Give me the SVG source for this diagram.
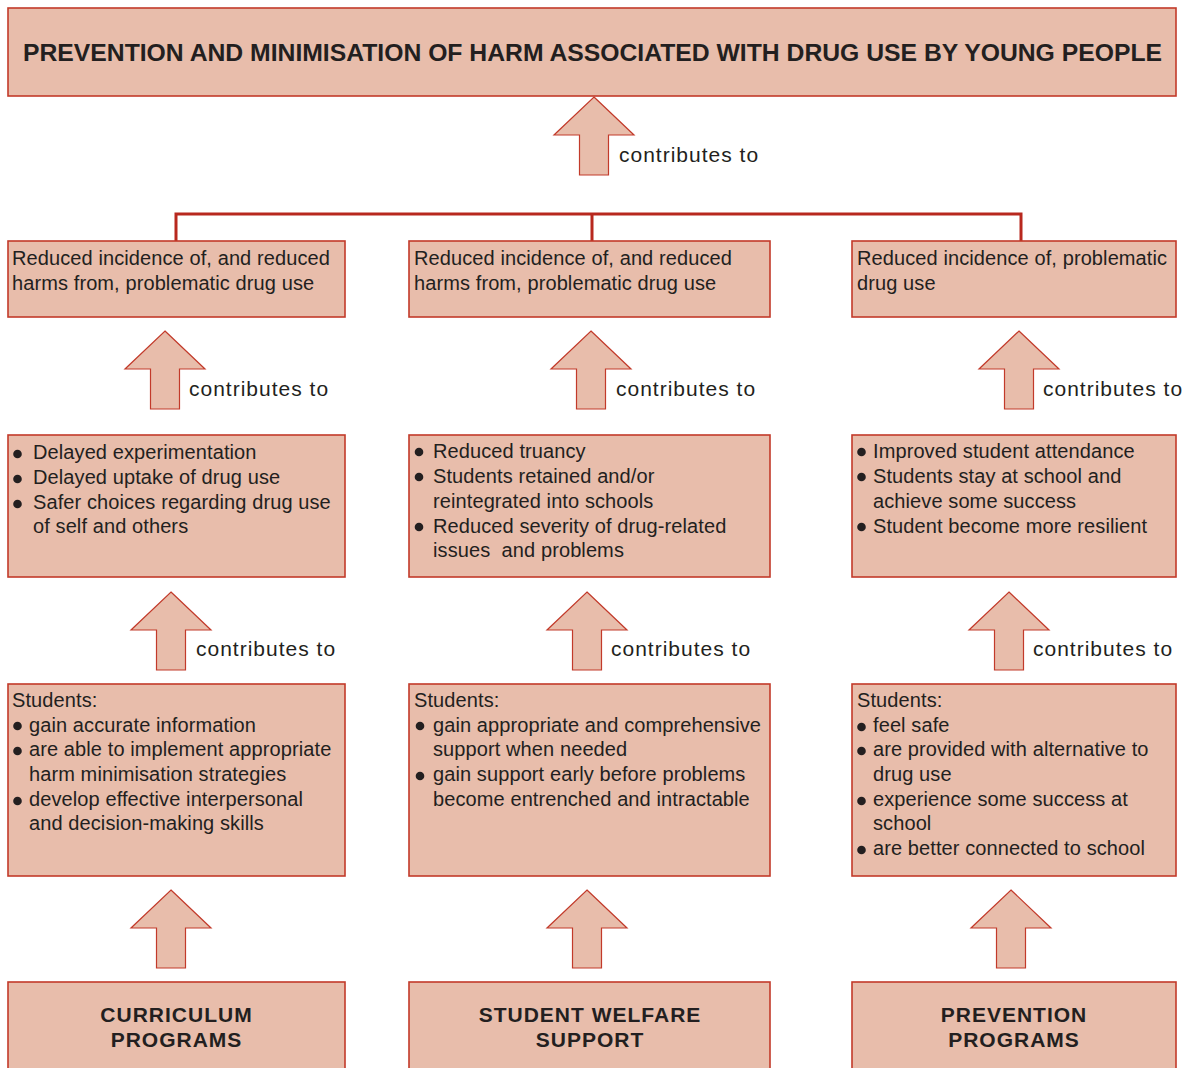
<svg xmlns="http://www.w3.org/2000/svg" width="1192" height="1068" viewBox="0 0 1192 1068">
<defs>
<style>
.box{fill:#E8BDAB;stroke:#C23A2A;stroke-width:1.6}
.arr{fill:#E8BDAB;stroke:#C23A2A;stroke-width:1.2}
.t{font-family:"Liberation Sans",Arial,sans-serif;font-size:20px;fill:#231F20;letter-spacing:0.1px}
.c{font-family:"Liberation Sans",Arial,sans-serif;font-size:21px;fill:#231F20;letter-spacing:1px}
.b{font-family:"Liberation Sans",Arial,sans-serif;font-size:21px;font-weight:bold;fill:#231F20;letter-spacing:1px;text-anchor:middle}
.h{font-family:"Liberation Sans",Arial,sans-serif;font-size:24px;font-weight:bold;fill:#231F20}
.dot{fill:#231F20}
.ln{stroke:#B8281E;stroke-width:3;fill:none}
</style>
<path id="arrow" d="M0,0 L40,38 L14.5,38 L14.5,78 L-14.5,78 L-14.5,38 L-40,38 Z"/>
</defs>
<rect width="1192" height="1068" fill="#ffffff"/>

<g id="connectors">
<path class="ln" d="M176,241 V214 H1021 V241 M592,214 V241"/>
<use href="#arrow" class="arr" transform="translate(594,97)"/>
<use href="#arrow" class="arr" transform="translate(165,331)"/>
<use href="#arrow" class="arr" transform="translate(591,331)"/>
<use href="#arrow" class="arr" transform="translate(1019,331)"/>
<use href="#arrow" class="arr" transform="translate(171,592)"/>
<use href="#arrow" class="arr" transform="translate(587,592)"/>
<use href="#arrow" class="arr" transform="translate(1009,592)"/>
<use href="#arrow" class="arr" transform="translate(171,890)"/>
<use href="#arrow" class="arr" transform="translate(587,890)"/>
<use href="#arrow" class="arr" transform="translate(1011,890)"/>
<text class="c" x="619" y="162">contributes to</text>
<text class="c" x="189" y="396">contributes to</text>
<text class="c" x="616" y="396">contributes to</text>
<text class="c" x="1043" y="396">contributes to</text>
<text class="c" x="196" y="656">contributes to</text>
<text class="c" x="611" y="656">contributes to</text>
<text class="c" x="1033" y="656">contributes to</text>
</g>

<g id="title">
<rect class="box" x="8" y="8" width="1168" height="88"/>
<text class="h" x="23" y="60.5" textLength="1139" lengthAdjust="spacingAndGlyphs">PREVENTION AND MINIMISATION OF HARM ASSOCIATED WITH DRUG USE BY YOUNG PEOPLE</text>
</g>

<g id="outcome1">
<rect class="box" x="8" y="241" width="337" height="76"/>
<text class="t" x="12" y="265">Reduced incidence of, and reduced</text>
<text class="t" x="12" y="290">harms from, problematic drug use</text>
</g>
<g id="outcome2">
<rect class="box" x="409" y="241" width="361" height="76"/>
<text class="t" x="414" y="265">Reduced incidence of, and reduced</text>
<text class="t" x="414" y="290">harms from, problematic drug use</text>
</g>
<g id="outcome3">
<rect class="box" x="852" y="241" width="324" height="76"/>
<text class="t" x="857" y="265">Reduced incidence of, problematic</text>
<text class="t" x="857" y="290">drug use</text>
</g>

<g id="mid1">
<rect class="box" x="8" y="435" width="337" height="142"/>
<circle class="dot" cx="17.5" cy="454" r="4.3"/>
<circle class="dot" cx="17.5" cy="479" r="4.3"/>
<circle class="dot" cx="17.5" cy="504" r="4.3"/>
<text class="t" x="33" y="459">Delayed experimentation</text>
<text class="t" x="33" y="484">Delayed uptake of drug use</text>
<text class="t" x="33" y="509">Safer choices regarding drug use</text>
<text class="t" x="33" y="533">of self and others</text>
</g>
<g id="mid2">
<rect class="box" x="409" y="435" width="361" height="142"/>
<circle class="dot" cx="419" cy="452" r="4.3"/>
<circle class="dot" cx="419" cy="477" r="4.3"/>
<circle class="dot" cx="419" cy="527" r="4.3"/>
<text class="t" x="433" y="458">Reduced truancy</text>
<text class="t" x="433" y="483">Students retained and/or</text>
<text class="t" x="433" y="508">reintegrated into schools</text>
<text class="t" x="433" y="533">Reduced severity of drug-related</text>
<text class="t" x="433" y="557" style="white-space:pre" xml:space="preserve">issues  and problems</text>
</g>
<g id="mid3">
<rect class="box" x="852" y="435" width="324" height="142"/>
<circle class="dot" cx="861.5" cy="452" r="4.3"/>
<circle class="dot" cx="861.5" cy="477" r="4.3"/>
<circle class="dot" cx="861.5" cy="527" r="4.3"/>
<text class="t" x="873" y="458">Improved student attendance</text>
<text class="t" x="873" y="483">Students stay at school and</text>
<text class="t" x="873" y="508">achieve some success</text>
<text class="t" x="873" y="533">Student become more resilient</text>
</g>

<g id="students1">
<rect class="box" x="8" y="684" width="337" height="192"/>
<text class="t" x="12" y="707">Students:</text>
<circle class="dot" cx="17.5" cy="726" r="4.3"/>
<circle class="dot" cx="17.5" cy="751" r="4.3"/>
<circle class="dot" cx="17.5" cy="801" r="4.3"/>
<text class="t" x="29" y="732">gain accurate information</text>
<text class="t" x="29" y="756">are able to implement appropriate</text>
<text class="t" x="29" y="781">harm minimisation strategies</text>
<text class="t" x="29" y="806">develop effective interpersonal</text>
<text class="t" x="29" y="830">and decision-making skills</text>
</g>
<g id="students2">
<rect class="box" x="409" y="684" width="361" height="192"/>
<text class="t" x="414" y="707">Students:</text>
<circle class="dot" cx="420" cy="726" r="4.3"/>
<circle class="dot" cx="420" cy="776" r="4.3"/>
<text class="t" x="433" y="732">gain appropriate and comprehensive</text>
<text class="t" x="433" y="756">support when needed</text>
<text class="t" x="433" y="781">gain support early before problems</text>
<text class="t" x="433" y="806">become entrenched and intractable</text>
</g>
<g id="students3">
<rect class="box" x="852" y="684" width="324" height="192"/>
<text class="t" x="857" y="707">Students:</text>
<circle class="dot" cx="861.5" cy="727" r="4.3"/>
<circle class="dot" cx="861.5" cy="751" r="4.3"/>
<circle class="dot" cx="861.5" cy="801" r="4.3"/>
<circle class="dot" cx="861.5" cy="850" r="4.3"/>
<text class="t" x="873" y="732">feel safe</text>
<text class="t" x="873" y="756">are provided with alternative to</text>
<text class="t" x="873" y="781">drug use</text>
<text class="t" x="873" y="806">experience some success at</text>
<text class="t" x="873" y="830">school</text>
<text class="t" x="873" y="855">are better connected to school</text>
</g>

<g id="curriculum">
<rect class="box" x="8" y="982" width="337" height="100"/>
<text class="b" x="176.5" y="1022">CURRICULUM</text>
<text class="b" x="176.5" y="1047">PROGRAMS</text>
</g>
<g id="welfare">
<rect class="box" x="409" y="982" width="361" height="100"/>
<text class="b" x="590" y="1022">STUDENT WELFARE</text>
<text class="b" x="590" y="1047">SUPPORT</text>
</g>
<g id="prevention">
<rect class="box" x="852" y="982" width="324" height="100"/>
<text class="b" x="1014" y="1022">PREVENTION</text>
<text class="b" x="1014" y="1047">PROGRAMS</text>
</g>
</svg>
